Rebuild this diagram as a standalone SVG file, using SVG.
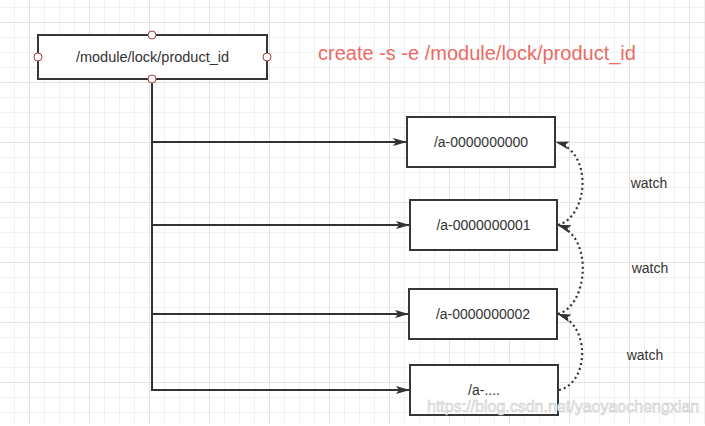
<svg xmlns="http://www.w3.org/2000/svg" width="705" height="426" viewBox="0 0 705 426">
  <style>
    .box { fill: #ffffff; stroke: #363636; stroke-width: 2; }
    .lbl { font-family: "Liberation Sans", Arial, sans-serif; font-size: 14px; fill: #333333; text-anchor: middle; }
    .port { fill: #ffffff; stroke: #a0403d; stroke-width: 1; }
    .edge { fill: none; stroke: #333333; stroke-width: 2; }
    .dot { fill: none; stroke: #333333; stroke-width: 2.2; stroke-dasharray: 2 3; }
    .watch { font-family: "Liberation Sans", Arial, sans-serif; font-size: 14px; fill: #333333; text-anchor: middle; }
  </style>
  <defs>
    <pattern id="grid" patternUnits="userSpaceOnUse" x="29" y="22" width="60" height="60">
      <rect width="60" height="60" fill="#ffffff"/>
      <path d="M15.5 0V60M30.5 0V60M45.5 0V60M0 15.5H60M0 30.5H60M0 45.5H60" stroke="#f1f1f1" stroke-width="1"/>
      <path d="M0.5 0V60M0 0.5H60" stroke="#e3e3e3" stroke-width="1"/>
    </pattern>
    <marker id="arr" viewBox="0 0 14 8" refX="13" refY="4" markerWidth="14" markerHeight="8" markerUnits="userSpaceOnUse" orient="auto">
      <path d="M0 0L14 4L0 8L3 4Z" fill="#333333"/>
    </marker>
  </defs>
  <rect x="0" y="0" width="705" height="424" fill="url(#grid)"/>

  <g id="connectors">
    <path class="edge" d="M152 83V390"/>
    <path class="edge" d="M152 142H406" marker-end="url(#arr)"/>
    <path class="edge" d="M152 225H409" marker-end="url(#arr)"/>
    <path class="edge" d="M152 314H408" marker-end="url(#arr)"/>
    <path class="edge" d="M151 390H409" marker-end="url(#arr)"/>
    <path class="dot" d="M558 225C588 217 594 152 556 142" marker-end="url(#arr)"/>
    <path class="dot" d="M558 314C588 306 594 237 558 225" marker-end="url(#arr)"/>
    <path class="dot" d="M559 390C588 384 592 326 558 314" marker-end="url(#arr)"/>
  </g>

  <g id="root">
    <rect class="box" x="38" y="35" width="229" height="44"/>
    <text class="lbl" x="152.5" y="62" style="font-size:14.5px">/module/lock/product_id</text>
    <circle class="port" cx="152" cy="35" r="4"/>
    <circle class="port" cx="38" cy="57" r="4"/>
    <circle class="port" cx="267" cy="57" r="4"/>
    <circle class="port" cx="152" cy="79" r="4"/>
  </g>

  <g id="cmd">
    <text x="318" y="60" style="font-family:'Liberation Sans', Arial, sans-serif;font-size:20px;fill:#ea6b66">create -s -e /module/lock/product_id</text>
  </g>

  <g id="node0">
    <rect class="box" x="407" y="117" width="148" height="50"/>
    <text class="lbl" x="481" y="147">/a-0000000000</text>
  </g>
  <g id="node1">
    <rect class="box" x="410" y="200" width="147" height="50"/>
    <text class="lbl" x="483.5" y="230">/a-0000000001</text>
  </g>
  <g id="node2">
    <rect class="box" x="409" y="289" width="148" height="50"/>
    <text class="lbl" x="483" y="319">/a-0000000002</text>
  </g>
  <g id="node3">
    <rect class="box" x="410" y="365" width="148" height="50"/>
    <text class="lbl" x="484" y="395">/a-....</text>
  </g>

  <g id="watch-labels">
    <text class="watch" x="649" y="188">watch</text>
    <text class="watch" x="650" y="273">watch</text>
    <text class="watch" x="645" y="360">watch</text>
  </g>

  <g id="watermark">
    <text x="427" y="412" style="font-family:'Liberation Sans', Arial, sans-serif;font-size:16px;fill:#f6f6f6;stroke:#c4c4c4;stroke-width:0.5">https://blog.csdn.net/yaoyaochengxian</text>
  </g>
</svg>
